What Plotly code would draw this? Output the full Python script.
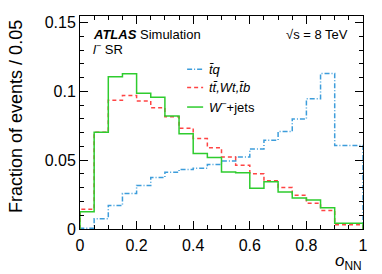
import plotly.graph_objects as go

# ---------------- data ----------------
bin_edges = [round(i * 0.05, 2) for i in range(21)]
tq_vals = [0.0005, 0.0075, 0.0171, 0.0258, 0.0316, 0.0374, 0.0413, 0.0432, 0.0442, 0.0469,
           0.0495, 0.0524, 0.0582, 0.0645, 0.0708, 0.0800, 0.0947, 0.1130, 0.0606, 0.0606]
tt_vals = [0.0143, 0.0703, 0.0935, 0.0971, 0.0930, 0.0882, 0.0816, 0.0732, 0.0657, 0.0590,
           0.0524, 0.0464, 0.0401, 0.0350, 0.0302, 0.0246, 0.0188, 0.0135, 0.0031, 0.0031]
wj_vals = [0.0126, 0.0703, 0.1106, 0.1128, 0.0986, 0.0957, 0.0821, 0.0693, 0.0548, 0.0519,
           0.0415, 0.0408, 0.0297, 0.0343, 0.0268, 0.0225, 0.0210, 0.0155, 0.0041, 0.0041]
series_names = ["<i>t̄q</i>", "<i>tt̄,Wt,t̄b</i>", "<i>W</i><sup>−</sup>+jets"]
x_tick_vals = [0, 0.2, 0.4, 0.6, 0.8, 1]
x_tick_text = ["0", "0.2", "0.4", "0.6", "0.8", "1"]
y_tick_vals = [0, 0.05, 0.1, 0.15]
y_tick_text = ["0", "0.05", "0.1", "0.15"]

# ---------------- layout geometry ----------------
# page body has an 8px default margin, so the figure is drawn offset by (8, 8)
OFF = 8
W, H = 382 - OFF, 274 - OFF
PL, PR, PT, PB = 80, 362.7, 15.7, 229.3   # plot area in window pixels
ML, MR, MT, MB = PL - OFF, 382 - PR, PT - OFF, 274 - PB
PW, PH = PR - PL, PB - PT


def px_x(px):
    return (px - PL) / PW


def px_y(py):
    return (PB - py) / PH


colors = ["#3d9ddb", "#ff4444", "#2ecc2e"]
dashes = ["5px,2px,1px,2px", "4px,3px", "solid"]
FONT = "Liberation Sans, Arial, sans-serif"

fig = go.Figure()
for vals, name, c, d in zip([tq_vals, tt_vals, wj_vals], series_names, colors, dashes):
    xs = [bin_edges[0]] + bin_edges + [bin_edges[-1]]
    ys = [0] + vals + [vals[-1], 0]
    fig.add_trace(go.Scatter(x=xs, y=ys, mode="lines", line_shape="hv",
                             line=dict(color=c, width=1.5, dash=d),
                             name=name, showlegend=False, hoverinfo="skip"))

# manual legend
legend_rows = [69, 87.5, 107]
for name, c, d, ry in zip(series_names, colors, dashes, legend_rows):
    fig.add_shape(type="line", xref="paper", yref="paper",
                  x0=px_x(187), x1=px_x(203), y0=px_y(ry), y1=px_y(ry),
                  line=dict(color=c, width=1.5, dash=d))
    fig.add_annotation(x=px_x(207), y=px_y(ry), xref="paper", yref="paper",
                       text=name, showarrow=False, xanchor="left", yanchor="middle",
                       font=dict(family=FONT, size=13, color="black"))

# labels
fig.add_annotation(x=px_x(91), y=px_y(34), xref="paper", yref="paper",
                   text="<b><i>ATLAS</i></b> Simulation", showarrow=False,
                   xanchor="left", yanchor="middle",
                   font=dict(family=FONT, size=13, color="black"))
fig.add_annotation(x=px_x(91), y=px_y(49), xref="paper", yref="paper",
                   text="<i>l</i><sup>−</sup> SR", showarrow=False,
                   xanchor="left", yanchor="middle",
                   font=dict(family=FONT, size=13, color="black"))
fig.add_annotation(x=px_x(350), y=px_y(34), xref="paper", yref="paper",
                   text="√s = 8 TeV", showarrow=False,
                   xanchor="right", yanchor="middle",
                   font=dict(family=FONT, size=13, color="black"))
fig.add_annotation(x=px_x(364), y=px_y(262), xref="paper", yref="paper",
                   text="<i>o</i><sub>NN</sub>", showarrow=False,
                   xanchor="right", yanchor="middle",
                   font=dict(family=FONT, size=17, color="black"))
fig.add_annotation(x=px_x(16), y=px_y(116), xref="paper", yref="paper",
                   text="Fraction of events / 0.05", showarrow=False, textangle=-90,
                   xanchor="center", yanchor="middle",
                   font=dict(family=FONT, size=18, color="black"))

axis_common = dict(showgrid=False, zeroline=False, showline=True, linecolor="black",
                   linewidth=1, mirror="ticks", ticks="inside", tickcolor="black",
                   tickwidth=1, automargin=False,
                   tickfont=dict(family=FONT, size=16, color="black"))

fig.update_xaxes(range=[0, 1], tickvals=x_tick_vals, ticktext=x_tick_text, ticklen=8,
                 minor=dict(ticks="inside", dtick=0.05, ticklen=4, tickcolor="black"),
                 ticklabelstandoff=2, **axis_common)
fig.update_yaxes(range=[0, 0.1548], tickvals=y_tick_vals, ticktext=y_tick_text, ticklen=8,
                 minor=dict(ticks="inside", dtick=0.01, ticklen=4, tickcolor="black"),
                 ticklabelstandoff=0, **axis_common)

fig.update_layout(width=W, height=H, margin=dict(l=ML, r=MR, t=MT, b=MB),
                  plot_bgcolor="white", paper_bgcolor="white", showlegend=False)

fig.write_html("out.html")
